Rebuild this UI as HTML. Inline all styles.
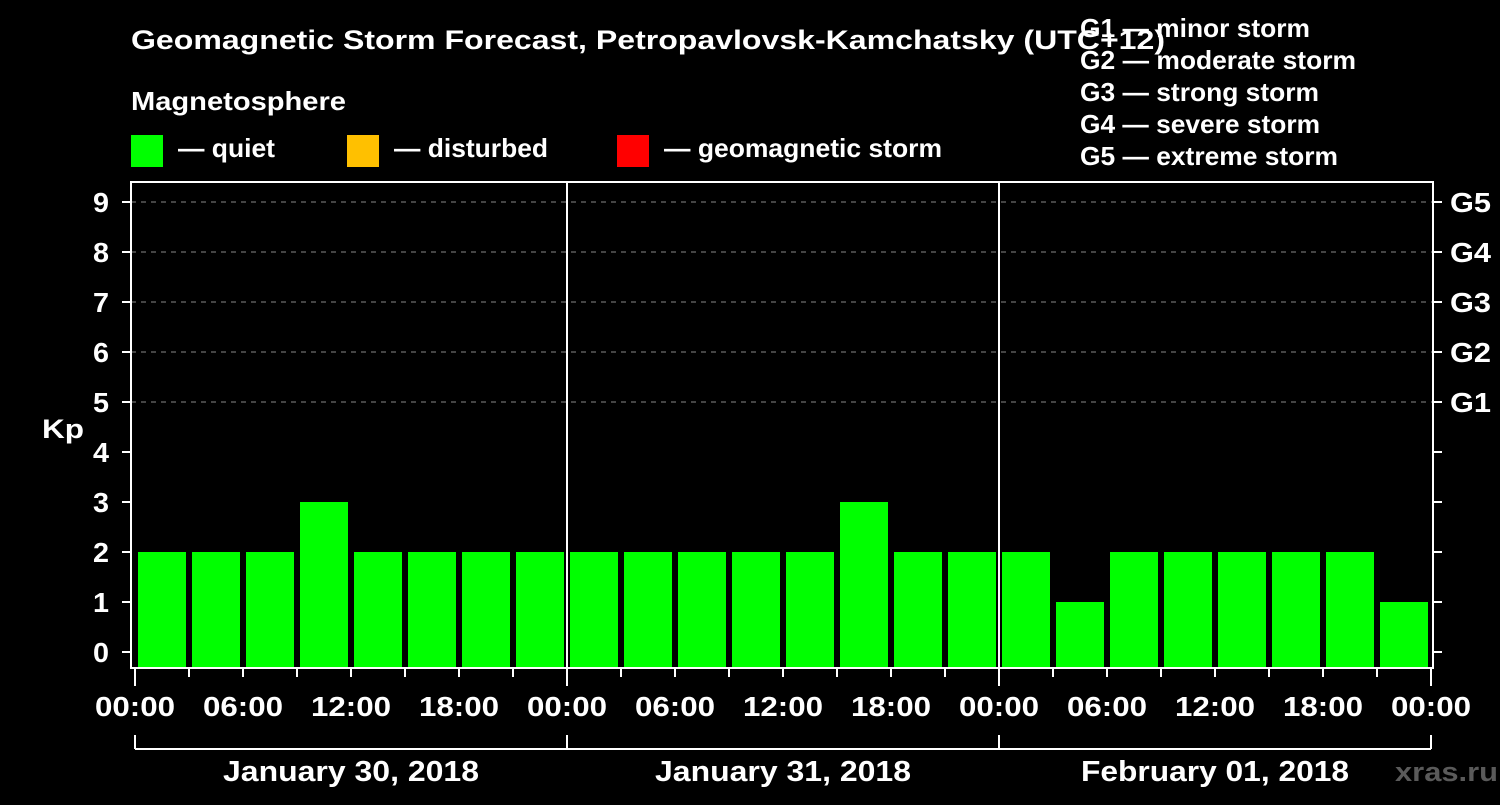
<!DOCTYPE html>
<html><head><meta charset="utf-8"><style>
body{margin:0;background:#000;width:1500px;height:800px;overflow:hidden}
svg text{font-family:"Liberation Sans",Arial,sans-serif;font-weight:bold;fill:#fff}
</style></head><body>
<svg id="c" width="1500" height="800">
<text x="131" y="49" font-size="27" textLength="1034" lengthAdjust="spacingAndGlyphs">Geomagnetic Storm Forecast, Petropavlovsk-Kamchatsky (UTC+12)</text>
<text x="131" y="110" font-size="26" textLength="215" lengthAdjust="spacingAndGlyphs">Magnetosphere</text>
<g><rect x="131" y="135" width="32" height="32" fill="#00ff00"/><text x="178" y="157" font-size="26" textLength="97" lengthAdjust="spacingAndGlyphs">— quiet</text></g>
<g><rect x="347" y="135" width="32" height="32" fill="#ffc000"/><text x="394" y="157" font-size="26" textLength="154" lengthAdjust="spacingAndGlyphs">— disturbed</text></g>
<g><rect x="617" y="135" width="32" height="32" fill="#ff0000"/><text x="664" y="157" font-size="26" textLength="278" lengthAdjust="spacingAndGlyphs">— geomagnetic storm</text></g>
<g font-size="26">
<text x="1080" y="37" textLength="230" lengthAdjust="spacingAndGlyphs">G1 — minor storm</text><text x="1080" y="69" textLength="276" lengthAdjust="spacingAndGlyphs">G2 — moderate storm</text><text x="1080" y="101" textLength="239" lengthAdjust="spacingAndGlyphs">G3 — strong storm</text><text x="1080" y="133" textLength="240" lengthAdjust="spacingAndGlyphs">G4 — severe storm</text><text x="1080" y="165" textLength="258" lengthAdjust="spacingAndGlyphs">G5 — extreme storm</text>
</g>
<text x="42" y="438" font-size="27" textLength="42" lengthAdjust="spacingAndGlyphs">Kp</text>
<text x="1395" y="781" font-size="27" textLength="103" lengthAdjust="spacingAndGlyphs" style="fill:#5a5a5a">xras.ru</text>
<g id="plot"></g>
</svg>
<script>
const kpValues=[2,2,2,3,2,2,2,2, 2,2,2,2,2,3,2,2, 2,1,2,2,2,2,2,1];
const yTicks=[0,1,2,3,4,5,6,7,8,9];
const gLabels=["G1","G2","G3","G4","G5"];
const gLevels=[5,6,7,8,9];
const xTickLabels=["00:00","06:00","12:00","18:00","00:00","06:00","12:00","18:00","00:00","06:00","12:00","18:00","00:00"];
const dayLabels=["January 30, 2018","January 31, 2018","February 01, 2018"];
const NS="http://www.w3.org/2000/svg",g=document.getElementById('plot');
const X0=135,DAY=432,L=131,R=1433,T=182,B=668;
const y=v=>652-50*v, x=h=>X0+h*18;
function mk(t,a,txt){const e=document.createElementNS(NS,t);for(const k in a)e.setAttribute(k,a[k]);if(txt!=null)e.textContent=txt;g.appendChild(e);return e;}
yTicks.forEach(v=>{
 if(v>=5){const l=mk('line',{x1:L,x2:R,y1:y(v),y2:y(v),stroke:'#888','stroke-dasharray':'5,5','stroke-width':1});
  
  }
 const t=mk('line',{x1:122,x2:L,y1:y(v),y2:y(v),stroke:'#fff','stroke-width':2});
 
 
 const t2=mk('line',{x1:R,x2:1442,y1:y(v),y2:y(v),stroke:'#fff','stroke-width':2});
 
 
 const lb=mk('text',{x:109,y:y(v)+10,'font-size':28,'text-anchor':'end',textLength:16,lengthAdjust:'spacingAndGlyphs'},String(v));
 
 
});
gLabels.forEach((s,i)=>{const e=mk('text',{x:1450,y:y(gLevels[i])+10,'font-size':28,textLength:41,lengthAdjust:'spacingAndGlyphs'},s);
 
 });
kpValues.forEach((v,i)=>{const c=v>=5?'#ff0000':(v>=4?'#ffc000':'#00ff00');
 const r=mk('rect',{x:x(i*3)+3,y:y(v),width:48,height:B-y(v),fill:c});
 
 });
const f=mk('rect',{x:L,y:T,width:R-L,height:B-T,fill:'none',stroke:'#fff','stroke-width':2});


[1,2].forEach(d=>{const l=mk('line',{x1:X0+d*DAY,x2:X0+d*DAY,y1:T,y2:B,stroke:'#fff','stroke-width':2});
 
 });
for(let h=0;h<=72;h+=3){const big=h%24==0;const l=mk('line',{x1:x(h),x2:x(h),y1:B,y2:big?686:677,stroke:'#fff','stroke-width':2});
 
 }
xTickLabels.forEach((s,i)=>{const e=mk('text',{x:x(i*6),y:716,'font-size':28,'text-anchor':'middle',textLength:80,lengthAdjust:'spacingAndGlyphs'},s);
 
 });
const br=mk('line',{x1:X0,x2:X0+3*DAY,y1:749,y2:749,stroke:'#fff','stroke-width':2});


for(let d=0;d<=3;d++){const l=mk('line',{x1:X0+d*DAY,x2:X0+d*DAY,y1:735,y2:749,stroke:'#fff','stroke-width':2});
 
 }
dayLabels.forEach((s,i)=>{const e=mk('text',{x:X0+DAY*(i+0.5),y:781,'font-size':29,'text-anchor':'middle',textLength:s.startsWith('Feb')?268:256,lengthAdjust:'spacingAndGlyphs'},s);
 
 });
</script>
</body></html>
